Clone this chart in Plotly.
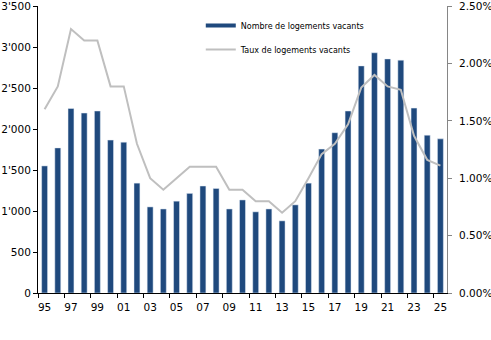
import plotly.graph_objects as go

years = list(range(1995, 2026))
vacant_count = [1550, 1770, 2250, 2195, 2220, 1865, 1840, 1340, 1050, 1025, 1120, 1215, 1305, 1275,
                1025, 1135, 990, 1025, 880, 1075, 1340, 1755, 1955, 2220, 2770, 2930, 2855, 2840,
                2255, 1925, 1880]
vacant_rate = [1.6, 1.8, 2.3, 2.2, 2.2, 1.8, 1.8, 1.3, 1.0, 0.9, 1.0, 1.1, 1.1, 1.1,
               0.9, 0.9, 0.8, 0.8, 0.7, 0.8, 1.0, 1.21, 1.3, 1.47, 1.79, 1.9, 1.8, 1.77,
               1.37, 1.16, 1.11]
x_tick_vals = list(range(1995, 2026, 2))
x_tick_text = [f"{y % 100:02d}" for y in x_tick_vals]
y_left_vals = [0, 500, 1000, 1500, 2000, 2500, 3000, 3500]
y_left_text = ["0", "500", "1'000", "1'500", "2'000", "2'500", "3'000", "3'500"]
y_right_vals = [0, 0.5, 1.0, 1.5, 2.0, 2.5]
y_right_text = ["0.00%", "0.50%", "1.00%", "1.50%", "2.00%", "2.50%"]

bar_color = "#1F497D"
line_color = "#BFBFBF"
font_fam = "DejaVu Sans"

fig = go.Figure()
fig.add_trace(go.Bar(x=years, y=vacant_count, marker_color=bar_color, width=0.45,
                     showlegend=False, name="Nombre de logements vacants"))
fig.add_trace(go.Scatter(x=years, y=vacant_rate, yaxis="y2", mode="lines",
                         line=dict(color=line_color, width=2), showlegend=False,
                         name="Taux de logements vacants"))
# legend entries
fig.add_trace(go.Scatter(x=[None], y=[None], mode="lines", line=dict(color=bar_color, width=4),
                         name="Nombre de logements vacants", legendgroup="a"))
fig.add_trace(go.Scatter(x=[None], y=[None], mode="lines", line=dict(color=line_color, width=2),
                         name="Taux de logements vacants", legendgroup="b"))

fig.update_layout(
    width=491, height=340,
    margin=dict(l=38, r=44, t=6, b=47, autoexpand=False),
    plot_bgcolor="white", paper_bgcolor="white",
    font=dict(family=font_fam, size=10.5, color="#000000"),
    bargap=0.5,
    xaxis=dict(range=[1994.5, 2025.5], tickmode="array", tickvals=x_tick_vals, ticktext=x_tick_text,
               ticks="", showline=True, linecolor="#000000", linewidth=1, showgrid=False,
               zeroline=False, ticklen=0, ticklabelstandoff=4, automargin=False,
               minor=dict(tickmode="linear", tick0=1994.5, dtick=2, ticks="outside", ticklen=4,
                          tickcolor="#000000", showgrid=False)),
    yaxis=dict(range=[0, 3500.5], tickmode="array", tickvals=y_left_vals, ticktext=y_left_text,
               ticks="outside", ticklen=4, tickcolor="#000000", showline=True, linecolor="#000000",
               linewidth=1, showgrid=False, zeroline=False, ticklabeloverflow="allow",
               automargin=False),
    yaxis2=dict(range=[0, 2.5004], overlaying="y", side="right", tickmode="array",
                tickvals=y_right_vals, ticktext=y_right_text, ticks="outside", ticklen=4,
                tickcolor="#868686", showline=True, linecolor="#868686", linewidth=1,
                showgrid=False, zeroline=False, ticklabelstandoff=5, ticklabeloverflow="allow",
                automargin=False),
    legend=dict(x=0.398, y=0.983, xanchor="left", yanchor="top", bgcolor="rgba(0,0,0,0)",
                font=dict(family=font_fam, size=8), tracegroupgap=5),
)

fig.write_html("out.html")
